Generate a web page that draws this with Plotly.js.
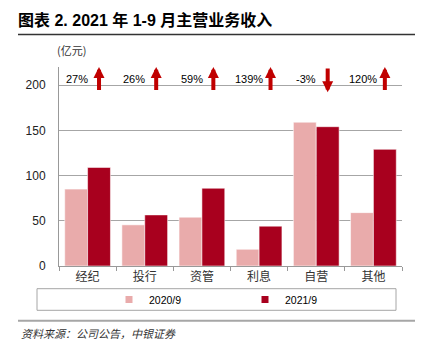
<!DOCTYPE html>
<html>
<head>
<meta charset="utf-8">
<script src="https://cdn.plot.ly/plotly-3.0.1.min.js"></script>
<style>html,body{margin:0;padding:0;background:#fff;}#chart{width:425px;height:353px;}</style>
</head>
<body>
<div id="chart"></div>
<script>
// ---- data ----
const categories = ["经纪", "投行", "资管", "利息", "自营", "其他"];
const series2020Name = "2020/9";
const series2021Name = "2021/9";
const values2020 = [85, 45.5, 54, 18.5, 159, 59];
const values2021 = [109, 56.5, 86, 44, 154, 129];
const growthLabels = ["27%", "26%", "59%", "139%", "-3%", "120%"];
const growthUp = [true, true, true, true, false, true];

const FONT = "Liberation Sans, Arial, Noto Sans CJK SC, sans-serif";
const CJK = "Noto Sans CJK SC, Liberation Sans, sans-serif";
const LIGHT = "#E9ABAB";
const DARK = "#A8001E";
const ARROW = "#C00000";

// plot area geometry (px) for paper conversions
const L = 59, R = 23, T = 67, B = 87, W = 425, H = 353;
const pw = W - L - R, ph = H - T - B;
const px2x = p => (p - L) / pw;
const py2y = p => (H - B - p) / ph;

const traces = [
  {type: "bar", x: categories, y: values2020, name: series2020Name,
   marker: {color: LIGHT, line: {color: "rgba(255,255,255,0.55)", width: 1}}, showlegend: false},
  {type: "bar", x: categories, y: values2021, name: series2021Name,
   marker: {color: DARK, line: {color: "rgba(255,255,255,0.55)", width: 1}}, showlegend: false},
  {type: "scatter", mode: "markers", x: [null], y: [null], name: series2020Name,
   marker: {symbol: "square", size: 7, color: LIGHT}},
  {type: "scatter", mode: "markers", x: [null], y: [null], name: series2021Name,
   marker: {symbol: "square", size: 7, color: DARK}}
];

const annotations = [];
categories.forEach((c, i) => {
  annotations.push({
    xref: "x", yref: "y", x: i - 0.18, y: 206.5, text: growthLabels[i],
    showarrow: false, font: {family: FONT, size: 11, color: "#000"}
  });
  const up = growthUp[i];
  annotations.push({
    xref: "x", yref: "y", axref: "x", ayref: "y",
    x: i + 0.2, y: up ? 220 : 192,
    ax: i + 0.2, ay: up ? 193 : 220,
    text: "", showarrow: true, arrowhead: 2, arrowsize: 0.55, arrowwidth: 4,
    arrowcolor: ARROW, standoff: 0, startstandoff: 0
  });
});
annotations.push({
  xref: "paper", yref: "paper", x: px2x(55), y: py2y(50), xanchor: "left", yanchor: "middle",
  text: "(亿元)", showarrow: false, font: {family: CJK, size: 11, color: "#333"}
});
annotations.push({
  xref: "paper", yref: "paper", x: px2x(19), y: py2y(333), xanchor: "left", yanchor: "middle",
  text: "<i>资料来源：公司公告，中银证券</i>", showarrow: false, font: {family: CJK, size: 11, color: "#333"}
});

const shapes = [
  {type: "line", xref: "paper", yref: "paper", x0: px2x(18), x1: px2x(415), y0: py2y(34.5), y1: py2y(34.5),
   line: {color: "#333", width: 1.3}},
  {type: "rect", xref: "paper", yref: "paper", x0: px2x(37), x1: px2x(396), y0: py2y(288.7), y1: py2y(310.3),
   line: {color: "#A6A6A6", width: 1}, fillcolor: "rgba(0,0,0,0)"},
  {type: "line", xref: "paper", yref: "paper", x0: px2x(18), x1: px2x(415), y0: py2y(320.7), y1: py2y(320.7),
   line: {color: "#A6A6A6", width: 2}}
];

const layout = {
  width: W, height: H,
  margin: {l: L, r: R, t: T, b: B, pad: 0},
  paper_bgcolor: "#fff", plot_bgcolor: "#fff",
  title: {
    text: "<b>图表 2. 2021 年 1-9 月主营业务收入</b>",
    x: 18 / W, xanchor: "left", xref: "container",
    y: 1 - 20 / H, yanchor: "middle", yref: "container",
    font: {family: FONT, size: 16, color: "#000"}
  },
  barmode: "group", bargap: 0.2, bargroupgap: 0,
  xaxis: {
    type: "category", showline: true, linecolor: "#999", linewidth: 1,
    ticks: "outside", tickson: "boundaries", ticklen: 4, tickcolor: "#999",
    tickfont: {family: CJK, size: 12, color: "#333"}, showgrid: false, zeroline: false,
    fixedrange: true
  },
  yaxis: {
    range: [0, 220], dtick: 50, tick0: 0, showline: true, linecolor: "#999", linewidth: 1,
    showgrid: true, gridcolor: "#A6A6A6", gridwidth: 1, zeroline: false,
    ticks: "", ticklabelstandoff: 10,
    tickfont: {family: FONT, size: 12, color: "#222"}
  },
  showlegend: true,
  legend: {
    orientation: "h", x: px2x(109), xanchor: "left", y: py2y(299.5), yanchor: "middle",
    font: {family: FONT, size: 10.5, color: "#000"}, bgcolor: "rgba(0,0,0,0)",
    borderwidth: 0, entrywidth: 91, entrywidthmode: "pixels", itemclick: false
  },
  annotations: annotations,
  shapes: shapes
};

Plotly.newPlot("chart", traces, layout, {displayModeBar: false, staticPlot: true});
</script>
</body>
</html>
